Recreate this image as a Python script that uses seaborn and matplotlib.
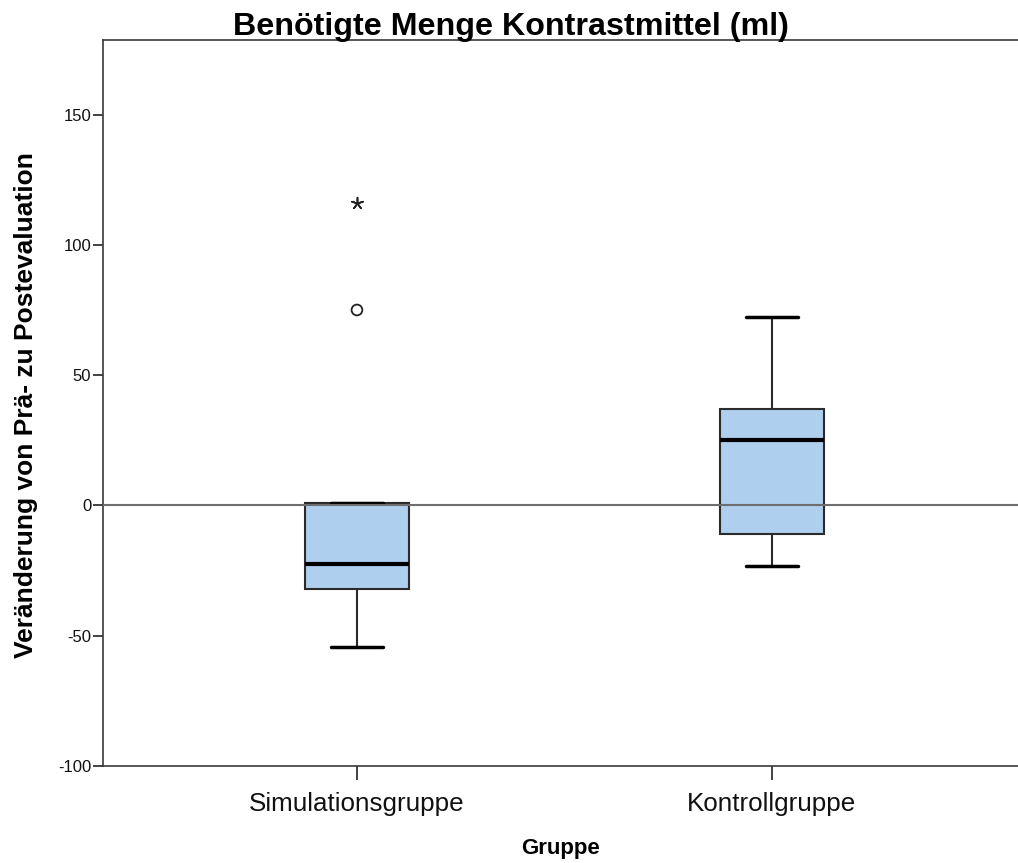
import numpy as np
import pandas as pd
import matplotlib
matplotlib.use("Agg")
import matplotlib.pyplot as plt
import seaborn as sns

# ---- data ----
groups = ["Simulationsgruppe", "Kontrollgruppe"]
sim_values = [-54.5, -42, -32, -27, -22.3, -10, 1, 75, 116]
kon_values = [-23.4, -16, -11.1, 8, 25, 31, 36.9, 55, 72.2]
yticks = [-100, -50, 0, 50, 100, 150]

title = "Benötigte Menge Kontrastmittel (ml)"
ylabel = "Veränderung von Prä- zu Postevaluation"
xlabel = "Gruppe"

df = pd.DataFrame({
    "Gruppe": [groups[0]] * len(sim_values) + [groups[1]] * len(kon_values),
    "Wert": sim_values + kon_values,
})

sns.set_style("white")
plt.rcParams["font.family"] = ["Liberation Sans", "DejaVu Sans"]
plt.rcParams["text.color"] = "black"

W, H = 1018, 863
fig = plt.figure(figsize=(W / 100, H / 100), dpi=100)
ax = fig.add_axes([103 / W, 1 - 766 / H, (1018 - 103) / W, (766 - 40) / H])

box_color = "#AECFEE"
edge = "#2b2b2b"
sns.boxplot(data=df, x="Gruppe", y="Wert", order=groups, ax=ax,
            showfliers=False, width=0.25, color=box_color, saturation=1,
            linecolor=edge, linewidth=1.5,
            medianprops=dict(color="black", linewidth=3),
            capprops=dict(color="black", linewidth=2.5),
            whiskerprops=dict(color=edge, linewidth=1.5),
            boxprops=dict(edgecolor=edge, linewidth=1.5))

# outliers (circles) and extremes (asterisks), SPSS style
out_rows, ext_rows = [], []
for g in groups:
    v = df.loc[df["Gruppe"] == g, "Wert"].to_numpy()
    q1, q3 = np.percentile(v, [25, 75])
    iqr = q3 - q1
    for val in v:
        if val > q3 + 3 * iqr or val < q1 - 3 * iqr:
            ext_rows.append((g, val))
        elif val > q3 + 1.5 * iqr or val < q1 - 1.5 * iqr:
            out_rows.append((g, val))

for g, val in out_rows:
    ax.scatter([groups.index(g)], [val], marker="o", s=60, facecolors="none",
               edgecolors="#222222", linewidths=1.3, zorder=6)
for g, val in ext_rows:
    ax.scatter([groups.index(g)], [val], marker=(5, 2, 0), s=70,
               color="#222222", linewidths=1.2, zorder=6)

ax.axhline(0, color="#6e6e6e", linewidth=1.5, zorder=5)

ax.set_xlim(-0.612, 1.593)
ax.set_ylim(-100, 178.6)
ax.set_yticks(yticks)
ax.set_yticklabels([str(t) for t in yticks], fontsize=12)
ax.set_xticks(range(len(groups)))
ax.set_xticklabels(groups, fontsize=18.7)
ax.tick_params(axis="y", left=True, direction="out", length=7.5, width=1.2,
               color="#222222", labelcolor="#111111", pad=1)
ax.tick_params(axis="x", bottom=True, direction="out", length=10, width=1.2,
               color="#222222", labelcolor="#111111", pad=9)
ax.set_xlabel("")
ax.set_ylabel("")

for side in ["left", "bottom", "top"]:
    ax.spines[side].set_visible(True)
    ax.spines[side].set_color("#3a3a3a")
    ax.spines[side].set_linewidth(1.2)
ax.spines["right"].set_visible(False)

fig.text(511 / W, 1 - 35.5 / H, title, ha="center", va="baseline",
         fontsize=23.2, fontweight="bold", color="black")
fig.text(26 / W, 1 - 405 / H, ylabel, ha="center", va="center",
         rotation=90, fontsize=19, fontweight="bold", color="black")
fig.text(560 / W, 1 - 848 / H, xlabel, ha="center", va="center",
         fontsize=16, fontweight="bold", color="black")

fig.savefig("out.png", dpi=100)
